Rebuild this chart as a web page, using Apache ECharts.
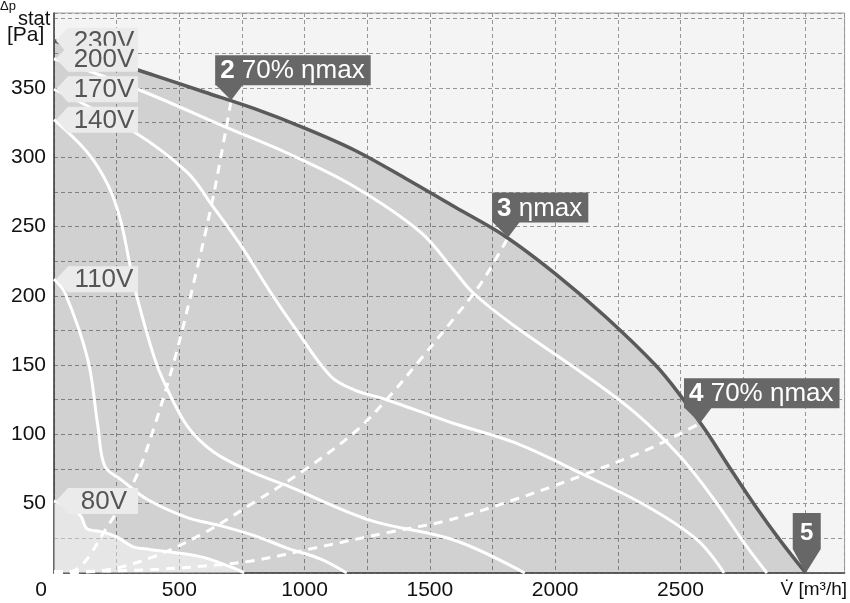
<!DOCTYPE html>
<html>
<head>
<meta charset="utf-8">
<script src="https://cdn.jsdelivr.net/npm/echarts@6/dist/echarts.min.js"></script>
<style>
html,body{margin:0;padding:0;background:#fff;}
#c{width:850px;height:603px;}
</style>
</head>
<body>
<div id="c"></div>
<script>
// ---- data ----
const xTickLabels = [0, 500, 1000, 1500, 2000, 2500];
const xUnitLabel = 'V\u0307 [m\u00b3/h]';
const yTickLabels = [50, 100, 150, 200, 250, 300, 350];

const curve230 = [[0,384],[200,371],[400,359],[600,347],[800,335],[1000,321],[1200,305],[1400,285],[1600,264],[1800,243],[2000,216],[2200,185],[2400,150],[2500,128],[2600,103],[2700,75],[2800,48],[2900,23],[3000,0]];
const curve200 = [[0,371],[334,349],[707,320],[930,303],[1196,279],[1462,246],[1593,219],[1673,202],[1839,178],[2102,145],[2316,116],[2499,84],[2634,53],[2765,19],[2845,0]];
const curve170 = [[0,349],[322,318],[532,289],[628,266],[747,236],[866,202],[957,178],[1104,142],[1200,132],[1327,125],[1593,108],[1839,94],[2102,72],[2368,48],[2566,24],[2674,0]];
const curve140 = [[0,327],[135,303],[215,280],[265,255],[300,225],[330,200],[401,155],[441,137],[532,106],[640,87],[800,72],[930,63],[1263,38],[1593,24],[1879,0]];
const curve110 = [[0,212],[44,202],[135,154],[175,106],[203,77],[270,67],[373,53],[532,40],[667,34],[799,27],[930,18],[1065,10],[1168,0]];
const curve80 = [[0,52],[103,42],[131,32],[183,30],[250,26],[314,19],[381,17],[580,12],[711,4],[759,0]];

const eff70left = [[0,0],[83,2],[215,34],[322,67],[401,106],[481,154],[548,202],[628,265],[679,313],[707,341]];
const effMax = [[0,0],[203,2],[401,12],[600,29],[799,51],[997,74],[1196,101],[1327,125],[1462,154],[1593,183],[1704,209],[1812,242]];
const eff70right = [[0,1],[334,2],[600,5],[799,9],[1065,19],[1327,29],[1573,38],[1839,53],[2102,70],[2368,89],[2578,108]];

const tagNames = ['230V','200V','170V','140V','110V','80V'];
const tagPoints = [[0,384],[0,371],[0,349],[0,327],[0,212],[0,52]];

const markerNums = ['2','3','4','5'];
const markerTexts = ['70% \u03b7max','\u03b7max','70% \u03b7max',''];
const markerPoints = [[707,341],[1812,242],[2578,108],[3000,0]];

// ---- chart ----
const FONT = '"Liberation Sans", Arial, sans-serif';
const chart = echarts.init(document.getElementById('c'), null, {renderer:'canvas'});

function whiteLine(data, dashed){
  return {
    type:'line', data:data, showSymbol:false, smooth:0.35, z:3, silent:true,
    lineStyle:{color:'#ffffff', width:3, type: dashed ? [9,7] : 'solid'}
  };
}

function renderTag(params, api){
  const p = api.coord([api.value(0), api.value(1)]);
  const tx = p[0], ty = p[1];
  return {type:'group', children:[
    {type:'polygon', shape:{points:[[tx+2,ty],[tx+14,ty-13],[tx+84,ty-13],[tx+84,ty+13],[tx+14,ty+13]]},
     style:{fill:'#ebebeb'}},
    {type:'text', x:tx+50, y:ty+1, style:{text:tagNames[params.dataIndex], fill:'#555555',
      fontSize:26, fontFamily:FONT, align:'center', verticalAlign:'middle'}}
  ]};
}

function renderMarker(params, api){
  const p = api.coord([api.value(0), api.value(1)]);
  const i = params.dataIndex;
  const tx = p[0], ty = p[1];
  const txt = markerTexts[i];
  if (txt) {
    const left = tx - 16, bottom = ty - 15;
    return {type:'group', children:[
      {type:'polygon', shape:{points:[[left,bottom-1],[tx,ty],[left+28,bottom-1]]}, style:{fill:'#676767'}},
      {type:'text', x:left, y:bottom, style:{
        text:'{b|' + markerNums[i] + '} ' + txt,
        fill:'#ffffff', fontSize:26, fontFamily:FONT, align:'left', verticalAlign:'bottom',
        backgroundColor:'#676767', padding:[3,6,1,5],
        rich:{b:{fontWeight:'bold', fontSize:26, fontFamily:FONT, fill:'#ffffff'}}
      }}
    ]};
  }
  return {type:'group', children:[
    {type:'polygon', shape:{points:[[tx-13,ty-60],[tx+15,ty-60],[tx+15,ty-24],[tx,ty],[tx-13,ty-24]]}, style:{fill:'#676767'}},
    {type:'text', x:tx+1, y:ty-40, style:{text:markerNums[i], fill:'#ffffff', fontSize:24, fontWeight:'bold',
      fontFamily:FONT, align:'center', verticalAlign:'middle'}}
  ]};
}

const option = {
  animation:false,
  backgroundColor:'#ffffff',
  grid:{left:54, right:2, top:13, bottom:30, show:true, backgroundColor:'#f4f4f4', borderColor:'#a0a0a0', borderWidth:1},
  xAxis:{
    type:'value', min:0, max:3155, interval:250,
    axisLine:{show:true, lineStyle:{color:'#444', width:1.5}},
    axisTick:{show:false},
    splitLine:{show:true, lineStyle:{color:'#959595', width:1, type:[4,3]}},
    axisLabel:{
      fontSize:21, color:'#111', fontFamily:FONT, margin:7,
      formatter:function(v){
        if (v === 0) return '{z|0}';
        if (v === 3000) return '{u|' + xUnitLabel + '}';
        return xTickLabels.indexOf(v) >= 0 ? String(v) : '';
      },
      rich:{
        z:{fontSize:21, color:'#111', fontFamily:FONT, padding:[0,26,0,0]},
        u:{fontSize:19, color:'#111', fontFamily:FONT, padding:[0,0,0,16]}
      }
    }
  },
  yAxis:{
    type:'value', min:0, max:404, interval:25,
    axisLine:{show:true, lineStyle:{color:'#444', width:1.5}},
    axisTick:{show:false},
    splitLine:{show:true, lineStyle:{color:'#959595', width:1, type:[4,3]}},
    axisLabel:{
      fontSize:21, color:'#111', fontFamily:FONT, margin:8,
      formatter:function(v){ return yTickLabels.indexOf(v) >= 0 ? String(v) : ''; }
    }
  },
  graphic:[
    {type:'text', left:0, top:0, style:{text:'\u0394p', fontSize:13, fill:'#111', fontFamily:FONT}},
    {type:'text', left:18, top:9, style:{text:'stat', fontSize:20, fill:'#111', fontFamily:FONT}},
    {type:'text', left:7, top:25, style:{text:'[Pa]', fontSize:21, fill:'#111', fontFamily:FONT}}
  ],
  series:[
    {type:'line', data:curve230, showSymbol:false, smooth:0.35, z:2, silent:true,
     lineStyle:{width:0}, areaStyle:{color:'rgba(0,0,0,0.14)', opacity:1}},
    {type:'line', data:curve80, showSymbol:false, smooth:0.35, z:2, silent:true,
     lineStyle:{width:0}, areaStyle:{color:'rgba(255,255,255,0.45)', opacity:1}},
    whiteLine(curve200, false),
    whiteLine(curve170, false),
    whiteLine(curve140, false),
    whiteLine(curve110, false),
    whiteLine(curve80, false),
    whiteLine(eff70left, true),
    whiteLine(effMax, true),
    whiteLine(eff70right, true),
    {type:'line', data:curve230, showSymbol:false, smooth:0.35, z:4, silent:true,
     lineStyle:{color:'#5a5a5a', width:3.5}},
    {type:'custom', data:tagPoints, renderItem:renderTag, z:5, silent:true, clip:false},
    {type:'custom', data:markerPoints, renderItem:renderMarker, z:6, silent:true, clip:false}
  ]
};
chart.setOption(option);
</script>
</body>
</html>
